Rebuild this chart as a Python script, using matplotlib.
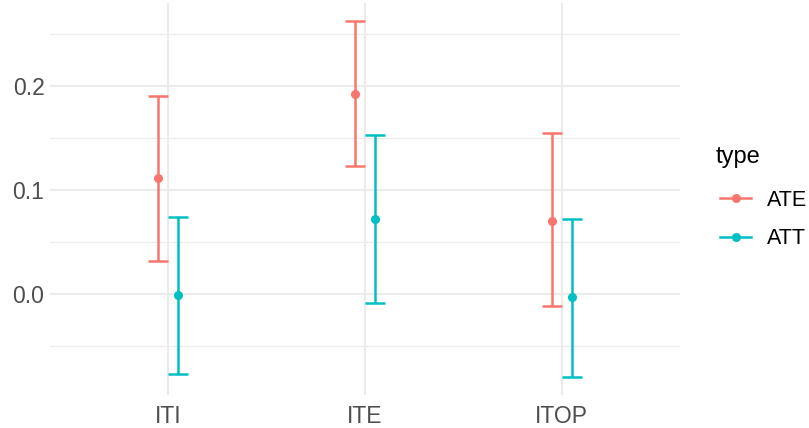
import matplotlib.pyplot as plt
import numpy as np
from matplotlib.lines import Line2D

plt.rcParams['font.family'] = ['Liberation Sans', 'DejaVu Sans']

# dados
categorias = ['ITI', 'ITE', 'ITOP']
tipos = ['ATE', 'ATT']
cores = {'ATE': '#F8766D', 'ATT': '#00BFC4'}

ate_est = [0.1115, 0.193, 0.0708]
ate_lo = [0.0317, 0.1237, -0.0115]
ate_hi = [0.191, 0.263, 0.1548]

att_est = [-0.001, 0.0728, -0.003]
att_lo = [-0.0766, -0.008, -0.0798]
att_hi = [0.074, 0.1535, 0.0728]

series = {
  'ATE': (ate_est, ate_lo, ate_hi),
  'ATT': (att_est, att_lo, att_hi),
}

fig = plt.figure(figsize=(8.09, 4.28), dpi=100)
ax = fig.add_axes([50/809, 33/428, 630/809, 392/428])

x = np.arange(1, len(categorias) + 1)
dodge = {'ATE': -0.05, 'ATT': 0.05}
cap = 0.05
lw = 1.8

for t in tipos:
  est, lo, hi = series[t]
  xs = x + dodge[t]
  c = cores[t]
  ax.vlines(xs, lo, hi, color=c, lw=lw, zorder=3)
  ax.hlines(lo, xs - cap, xs + cap, color=c, lw=lw, zorder=3)
  ax.hlines(hi, xs - cap, xs + cap, color=c, lw=lw, zorder=3)
  ax.plot(xs, est, 'o', color=c, ms=5.5, zorder=4)

# limites estilo ggplot
allv = ate_lo + ate_hi + att_lo + att_hi
lo_, hi_ = min(allv), max(allv)
pad = 0.05 * (hi_ - lo_)
ax.set_ylim(lo_ - pad, hi_ + pad)
ax.set_xlim(0.4, 3.6)

ax.set_xticks(x)
ax.set_xticklabels(categorias)
ax.set_yticks([0.0, 0.1, 0.2])
ax.set_yticklabels(['0.0', '0.1', '0.2'])
ax.set_yticks([-0.05, 0.05, 0.15, 0.25], minor=True)
ax.tick_params(axis='both', which='both', length=0, labelsize=16.5, colors='#4D4D4D')
ax.tick_params(axis='x', pad=7)
ax.tick_params(axis='y', pad=4)

ax.grid(True, which='major', color='#EBEBEB', lw=1.5)
ax.grid(True, which='minor', axis='y', color='#EBEBEB', lw=0.9)
ax.set_axisbelow(True)
for s in ax.spines.values():
  s.set_visible(False)

# legenda
fig.text(716/809, 1 - 157/428, 'type', fontsize=17, va='center', ha='left')
handles = [Line2D([0], [0], color=cores[t], lw=lw, marker='o', ms=5.5) for t in tipos]
leg = fig.legend(handles, tipos, loc='upper left',
                 bbox_to_anchor=(720/809, 1 - 190/428), frameon=False,
                 fontsize=15.5, handlelength=1.45, handletextpad=0.75,
                 labelspacing=0.8, borderpad=0, borderaxespad=0)

fig.savefig('out.png', dpi=100)
